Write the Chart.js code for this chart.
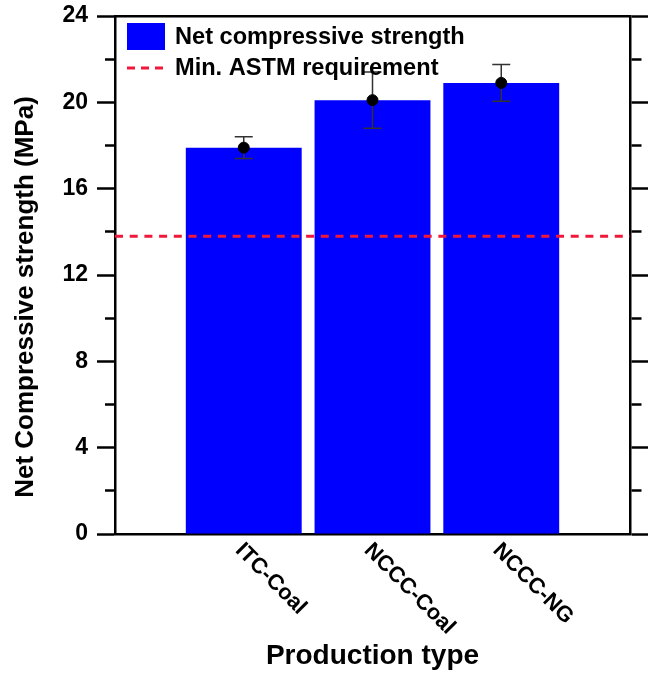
<!DOCTYPE html>
<html>
<head>
<meta charset="utf-8">
<script src="https://cdn.jsdelivr.net/npm/chart.js@4"></script>
<style>
  body { margin: 0; background: #fff; }
  #wrap { width: 655px; height: 673px; }
</style>
</head>
<body>
<div id="wrap"><canvas id="strengthChart"></canvas></div>
<script>
// ── DATA ────────────────────────────────────────────────
const CATEGORIES   = ["ITC-Coal", "NCCC-Coal", "NCCC-NG"];
const STRENGTH     = [17.9, 20.1, 20.9];     // MPa, bar heights / means
const STRENGTH_ERR = [0.5, 1.3, 0.85];       // +/- error
const ASTM_MIN     = 13.8;                   // MPa
const Y_TICKS      = [0, 4, 8, 12, 16, 20, 24];

const Y_TITLE = "Net Compressive strength (MPa)";
const FONT    = "'Liberation Sans', Arial, sans-serif";

// one empty slot either side of the three bars
const SLOTS = ["", ...CATEGORIES, ""];
const pad   = arr => [null, ...arr, null];

const isMajor = ctx => ctx.tick && Y_TICKS.includes(ctx.tick.value);

// ── PLUGINS ─────────────────────────────────────────────
const errorBars = {
  id: "errorBars",
  beforeDatasetDraw(chart, args) {
    if (args.index !== 2) return;
    const { ctx, scales: { x, y } } = chart;
    ctx.save();
    ctx.strokeStyle = "#333";
    ctx.lineWidth = 1.5;
    STRENGTH.forEach((v, i) => {
      const px = x.getPixelForValue(i + 1);
      const yt = y.getPixelForValue(v + STRENGTH_ERR[i]);
      const yb = y.getPixelForValue(v - STRENGTH_ERR[i]);
      ctx.beginPath();
      ctx.moveTo(px, yt); ctx.lineTo(px, yb);
      ctx.moveTo(px - 9, yt); ctx.lineTo(px + 9, yt);
      ctx.moveTo(px - 9, yb); ctx.lineTo(px + 9, yb);
      ctx.stroke();
    });
    ctx.restore();
  },
};

// slanted category labels + y title (sits a bit below the axis centre)
const axisText = {
  id: "axisText",
  afterDraw(chart) {
    const { ctx, scales: { x, y } } = chart;
    ctx.save();
    ctx.fillStyle = "#000";
    ctx.font = `bold 22px ${FONT}`;
    ctx.textAlign = "left";
    ctx.textBaseline = "middle";
    CATEGORIES.forEach((c, i) => {
      ctx.save();
      ctx.translate(x.getPixelForValue(i + 1) - 5, x.top + 13);
      ctx.rotate(Math.PI / 4);
      ctx.fillText(c, 0, 0);
      ctx.restore();
    });

    ctx.font = `bold 26px ${FONT}`;
    ctx.textAlign = "center";
    ctx.translate(26, (y.top + y.bottom) / 2 + 22);
    ctx.rotate(-Math.PI / 2);
    ctx.fillText(Y_TITLE, 0, 0);
    ctx.restore();
  },
};

const innerLegend = {
  id: "innerLegend",
  afterDraw(chart) {
    const { ctx, chartArea: a } = chart;
    const [bars, line] = chart.data.datasets;
    const x0 = a.left + 12, tx = a.left + 60;
    ctx.save();
    ctx.fillStyle = bars.backgroundColor;
    ctx.fillRect(x0, a.top + 7, 38, 27);
    ctx.strokeStyle = line.borderColor;
    ctx.lineWidth = 3;
    ctx.setLineDash([8, 6]);
    ctx.beginPath();
    ctx.moveTo(x0, a.top + 52);
    ctx.lineTo(x0 + 36, a.top + 52);
    ctx.stroke();
    ctx.font = `bold 23.6px ${FONT}`;
    ctx.textBaseline = "middle";
    ctx.fillStyle = "#000";
    ctx.fillText(bars.label, tx, a.top + 21);
    ctx.fillText(line.label, tx, a.top + 52);
    ctx.restore();
  },
};

// ── CHART ───────────────────────────────────────────────
const axisBorder = { display: true, color: "#000", width: 2.5 };

new Chart(document.getElementById("strengthChart"), {
  type: "bar",
  data: {
    labels: SLOTS,
    datasets: [
      {
        type: "bar",
        label: "Net compressive strength",
        data: pad(STRENGTH),
        backgroundColor: "#0000ff",
        borderWidth: 0,
        barPercentage: 0.9,
        categoryPercentage: 1,
        order: 3,
      },
      {
        type: "line",
        label: "Min. ASTM requirement",
        data: SLOTS.map(() => ASTM_MIN),
        borderColor: "#f0183a",
        borderWidth: 3,
        borderDash: [8, 6.7],
        pointRadius: 0,
        fill: false,
        order: 2,
      },
      {
        type: "line",
        label: "mean",
        data: pad(STRENGTH),
        showLine: false,
        pointRadius: 5.5,
        pointBackgroundColor: "#000",
        pointBorderColor: "#000",
        order: 1,
      },
    ],
  },
  options: {
    responsive: true,
    maintainAspectRatio: false,
    animation: false,
    layout: { padding: { top: 16, left: 0, right: 0, bottom: 0 } },
    plugins: { legend: { display: false }, tooltip: { enabled: false } },
    scales: {
      x: {
        type: "category",
        position: "bottom",
        offset: false,
        grid: { display: false },
        border: axisBorder,
        ticks: { display: false },
        title: {
          display: true,
          text: "Production type",
          color: "#000",
          font: { family: FONT, size: 28, weight: "bold" },
          padding: { top: 0, bottom: 0 },
        },
        afterFit: s => { s.height = 139; },
      },
      xTop: {
        type: "category",
        position: "top",
        offset: false,
        grid: { display: false },
        ticks: { display: false },
        border: axisBorder,
        afterFit: s => { s.height = 0; },
      },
      y: {
        position: "left",
        min: Y_TICKS[0],
        max: Y_TICKS[Y_TICKS.length - 1],
        ticks: {
          stepSize: 2,
          autoSkip: false,
          padding: 9,
          color: "#000",
          font: { family: FONT, size: 23, weight: "bold" },
          callback: v => (Y_TICKS.includes(v) ? v : ""),
        },
        grid: {
          drawOnChartArea: false,
          tickLength: 18,
          tickWidth: 2.5,
          tickColor: "#000",
          tickBorderDash: c => (isMajor(c) ? [] : [10, 8]),
          tickBorderDashOffset: c => (isMajor(c) ? 0 : 10),
        },
        border: axisBorder,
        afterFit: s => { s.width = 115; s.paddingTop = 0; s.paddingBottom = 0; },
      },
      yRight: {
        position: "right",
        min: Y_TICKS[0],
        max: Y_TICKS[Y_TICKS.length - 1],
        ticks: { stepSize: 2, autoSkip: false, display: false },
        grid: {
          drawOnChartArea: false,
          tickLength: 18,
          tickWidth: 2.5,
          tickColor: "#000",
          tickBorderDash: c => (isMajor(c) ? [] : [10, 8]),
          tickBorderDashOffset: 0,
        },
        border: axisBorder,
        afterFit: s => { s.width = 25; s.paddingTop = 0; s.paddingBottom = 0; },
      },
    },
  },
  plugins: [errorBars, axisText, innerLegend],
});
</script>
</body>
</html>
